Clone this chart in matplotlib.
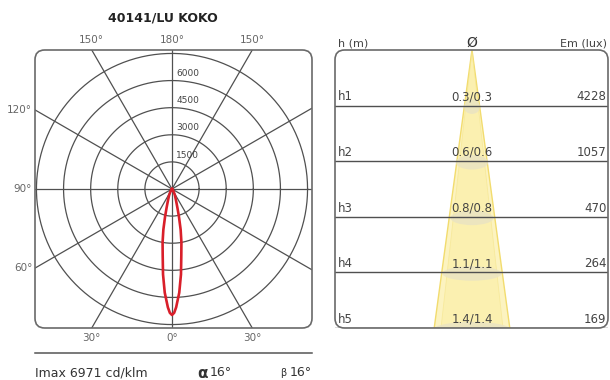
import numpy as np
import matplotlib
matplotlib.use("Agg")
import matplotlib.pyplot as plt
from matplotlib.patches import FancyBboxPatch, Polygon, Ellipse

# ---------------- data ----------------
title = "40141/LU KOKO"
imax = 6971
alpha_deg = 16
beta_deg = 16

# polar intensity curve (cd/klm) vs angle from nadir (deg)
curve_angles = [0, 1, 2, 4, 6, 8, 10, 12, 14, 16, 18, 20, 25, 30, 40, 50]
curve_values = [6971, 6850, 6550, 5750, 4750, 3700, 3000, 2300, 1600, 1100, 800, 620, 380, 200, 60, 0]

ring_values = [1500, 3000, 4500, 6000, 7500]
ring_labels = ["1500", "3000", "4500", "6000"]
spoke_angles = [0, 30, 60, 90, 120, 150]
# angle from nadir (negative = left side) -> label
angle_label_angles = [0, -30, 30, -60, -90, -120, -150, 150, 180]
angle_label_texts = ["0°", "30°", "30°", "60°", "90°", "120°", "150°", "150°", "180°"]

# illuminance table
row_names = ["h1", "h2", "h3", "h4", "h5"]
row_heights = [1, 2, 3, 4, 5]
diam_c0 = [0.3, 0.6, 0.8, 1.1, 1.4]
diam_c90 = [0.3, 0.6, 0.8, 1.1, 1.4]
em_lux = [4228, 1057, 470, 264, 169]

# ---------------- figure ----------------
W, H = 610, 380
fig = plt.figure(figsize=(W / 100, H / 100), dpi=100)
plt.rcParams['font.family'] = ['DejaVu Sans']

grid_c = "#505050"
text_c = "#444444"

# ---- left: polar diagram on cartesian axes ----
axL = fig.add_axes([35 / W, (H - 328) / H, 277 / W, 278 / H])
upp = imax / 126.0  # units per pixel
axL.set_xlim((35 - 172) * upp, (312 - 172) * upp)
axL.set_ylim(-139 * upp, 139 * upp)
axL.axis("off")

boxL = FancyBboxPatch((0, 0), 1, 1, boxstyle="round,pad=0,rounding_size=0.035",
                      transform=axL.transAxes, fill=False, edgecolor="#6a6a6a",
                      lw=1.2, clip_on=False, zorder=5)
axL.add_patch(boxL)

t = np.linspace(0, 2 * np.pi, 400)
for r in ring_values:
    ln, = axL.plot(r * np.cos(t), r * np.sin(t), color=grid_c, lw=0.9, zorder=2)
    ln.set_clip_path(boxL)
L = 20000
for a in spoke_angles:
    ar = np.radians(a)
    ln, = axL.plot([-L * np.sin(ar), L * np.sin(ar)], [L * np.cos(ar), -L * np.cos(ar)],
                   color=grid_c, lw=0.9, zorder=2)
    ln.set_clip_path(boxL)

for r, lab in zip(ring_values, ring_labels):
    axL.text(230, r + 130, lab, fontsize=6.5, color=text_c, ha="left", va="bottom", zorder=3)

# curve (symmetric)
ang = np.array(curve_angles, dtype=float)
val = np.array(curve_values, dtype=float)
full_ang = np.concatenate([-ang[::-1], ang[1:]])
full_val = np.concatenate([val[::-1], val[1:]])
ar = np.radians(full_ang)
axL.plot(full_val * np.sin(ar), -full_val * np.cos(ar), color="#d91f2a", lw=1.9, zorder=4)

# angle labels on the box edge
x0, x1 = axL.get_xlim()
y0, y1 = axL.get_ylim()
for a, lab in zip(angle_label_angles, angle_label_texts):
    arad = np.radians(a)
    dx, dy = np.sin(arad), -np.cos(arad)
    ts = []
    if dx > 1e-9:
        ts.append(x1 / dx)
    if dx < -1e-9:
        ts.append(x0 / dx)
    if dy > 1e-9:
        ts.append(y1 / dy)
    if dy < -1e-9:
        ts.append(y0 / dy)
    tt = min(ts)
    px, py = tt * dx, tt * dy
    if abs(py - y0) < 1:   # bottom
        axL.annotate(lab, (px, py), xytext=(0, -7), textcoords="offset points",
                     ha="center", va="center", fontsize=7.5, color="#666666")
    elif abs(py - y1) < 1:  # top
        axL.annotate(lab, (px, py), xytext=(0, 7), textcoords="offset points",
                     ha="center", va="center", fontsize=7.5, color="#666666")
    else:  # left
        axL.annotate(lab, (px, py), xytext=(-2, 0), textcoords="offset points",
                     ha="right", va="center", fontsize=7.5, color="#666666")

# title
axL.text(0.46, 1.0 + 32 / 278, title, transform=axL.transAxes, ha="center", va="center",
         fontsize=9, fontweight="bold", color="#222222")

# bottom line and info
axL.plot([0, 1], [-25 / 278, -25 / 278], transform=axL.transAxes, color="#555555",
         lw=1.1, clip_on=False)
yb = -45 / 278
axL.text(0.0, yb, f"Imax {imax} cd/klm", transform=axL.transAxes, ha="left", va="center",
         fontsize=9, color="#333333")
axL.text(0.585, yb, "α", transform=axL.transAxes, ha="left", va="center",
         fontsize=11, fontweight="bold", color="#333333")
axL.text(0.63, yb, f"{alpha_deg}°", transform=axL.transAxes, ha="left", va="center",
         fontsize=9, color="#333333")
axL.text(0.885, yb, "β", transform=axL.transAxes, ha="left", va="center",
         fontsize=7, color="#333333")
axL.text(1.0, yb, f"{beta_deg}°", transform=axL.transAxes, ha="right", va="center",
         fontsize=9, color="#333333")

# ---- right: illuminance cone ----
axR = fig.add_axes([335 / W, (H - 328) / H, 273 / W, 278 / H])
ppm = 54.0
axR.set_xlim((335 - 472) / ppm, (608 - 472) / ppm)
axR.set_ylim(row_heights[-1], 0)
axR.axis("off")

boxR = FancyBboxPatch((0, 0), 1, 1, boxstyle="round,pad=0,rounding_size=0.035",
                      transform=axR.transAxes, fill=False, edgecolor="#6a6a6a",
                      lw=1.2, clip_on=False, zorder=5)
axR.add_patch(boxR)

hb = row_heights[-1]
half = diam_c0[-1] / 2
cone = Polygon([[0, 0], [-half, hb], [half, hb]], closed=True, facecolor="#fcf3c0",
               edgecolor="#f2dc6e", lw=1.0, zorder=1)
axR.add_patch(cone)
half2 = diam_c90[-1] / 2 * 0.82
cone2 = Polygon([[0, 0], [-half2, hb], [half2, hb]], closed=True, facecolor="#fbeea6",
                edgecolor="#f5e58a", lw=0.6, alpha=0.6, zorder=1)
axR.add_patch(cone2)

for h, d in zip(row_heights, diam_c0):
    e = Ellipse((0, h + 0.02), d, 0.26, facecolor="#e9e3c4", edgecolor="none",
                alpha=0.8, zorder=1.5)
    axR.add_patch(e)
    axR.plot(axR.get_xlim(), [h, h], color="#505050", lw=1.0, zorder=2)

for h, name, d0, d9, em in zip(row_heights, row_names, diam_c0, diam_c90, em_lux):
    axR.text(0.011, h - 0.04, name, transform=axR.get_yaxis_transform(), ha="left",
             va="bottom", fontsize=8.5, color=text_c, zorder=3)
    axR.text(0, h - 0.04, f"{d0:.1f}/{d9:.1f}", ha="center", va="bottom",
             fontsize=8.5, color=text_c, zorder=3)
    axR.text(0.995, h - 0.04, f"{em}", transform=axR.get_yaxis_transform(), ha="right",
             va="bottom", fontsize=8.5, color=text_c, zorder=3)

yh = -7 / 55.6
axR.text(0.011, yh, "h (m)", transform=axR.get_yaxis_transform(), ha="left",
         va="center", fontsize=8, color=text_c, clip_on=False)
axR.text(0, yh, "Ø", ha="center", va="center", fontsize=10, color="#333333", clip_on=False)
axR.text(0.995, yh, "Em (lux)", transform=axR.get_yaxis_transform(), ha="right",
         va="center", fontsize=8, color=text_c, clip_on=False)

fig.savefig("out.png", dpi=100, facecolor="white")
